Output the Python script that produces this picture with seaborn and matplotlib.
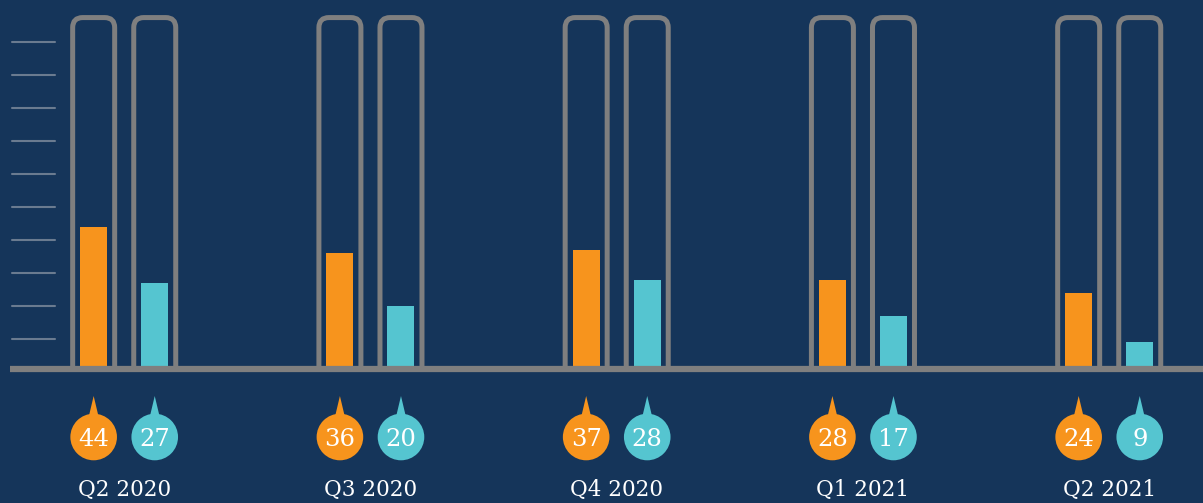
import matplotlib
matplotlib.use("Agg")
import matplotlib.pyplot as plt
import numpy as np
import pandas as pd
import seaborn as sns
from matplotlib.path import Path
from matplotlib.patches import PathPatch, Ellipse, Polygon

QUARTERS = ["Q2 2020", "Q3 2020", "Q4 2020", "Q1 2021", "Q2 2021"]
SERIES = ["Series 1", "Series 2"]
VALUES_1 = [44, 36, 37, 28, 24]
VALUES_2 = [27, 20, 28, 17, 9]
Y_TICKS = [10, 20, 30, 40, 50, 60, 70, 80, 90, 100]
CONTAINER_TOP = 107.4

BG = "#15355a"
COLOURS = ["#f7941d", "#55c5d0"]
GREY = "#7f7f7f"
TICK_GREY = "#6a7b90"

# pixel scale of the reference: 246.25 px per group on x, 3.3 px per unit on y
PX_X = 246.25
PX_Y = 3.3
W, H = 1203, 503
ZERO_PX = 372  # y pixel of value 0
X0_PX = 124.2  # x pixel of first group centre

df = pd.DataFrame({
    "quarter": QUARTERS * 2,
    "series": [SERIES[0]] * 5 + [SERIES[1]] * 5,
    "value": VALUES_1 + VALUES_2,
})

sns.set_style("white")
plt.rcParams["font.family"] = ["DejaVu Serif"]

fig = plt.figure(figsize=(W / 100, H / 100), dpi=100, facecolor=BG)
ax = fig.add_axes([0, 0, 1, 1], facecolor=BG)

sns.barplot(data=df, x="quarter", y="value", hue="series", order=QUARTERS,
            hue_order=SERIES, palette=COLOURS, width=0.496, gap=0.558,
            legend=False, saturation=1, linewidth=0, ax=ax, zorder=2)

ax.set_xlim(-X0_PX / PX_X, (W - X0_PX) / PX_X)
ax.set_ylim(-(H - ZERO_PX) / PX_Y, ZERO_PX / PX_Y)
ax.axis("off")

# decorative scale ticks on the left
for t in Y_TICKS:
    ax.axhline(t, xmin=12 / W, xmax=55 / W, color=TICK_GREY, lw=1.5, zorder=1)

# baseline
ax.axhline(3 / PX_Y, xmin=10 / W, xmax=1, color=GREY, lw=4.5,
           solid_capstyle="butt", zorder=4)

rx, ry = 10 / PX_X, 10 / PX_Y
half = 21 / PX_X
r_x, r_y = 23.3 / PX_X, 23.3 / PX_Y
cy = -(437 - ZERO_PX) / PX_Y
tip_y = -(396 - ZERO_PX) / PX_Y
label_y = -(490 - ZERO_PX) / PX_Y

for colour, cont in zip(COLOURS, ax.containers):
    for bar in cont:
        cx = bar.get_x() + bar.get_width() / 2
        val = bar.get_height()
        # rounded container outline
        x0, x1, top = cx - half, cx + half, CONTAINER_TOP
        verts = [(x0, 0), (x0, top - ry), (x0, top), (x0 + rx, top),
                 (x1 - rx, top), (x1, top), (x1, top - ry), (x1, 0)]
        codes = [Path.MOVETO, Path.LINETO, Path.CURVE3, Path.CURVE3,
                 Path.LINETO, Path.CURVE3, Path.CURVE3, Path.LINETO]
        ax.add_patch(PathPatch(Path(verts, codes), fill=False, edgecolor=GREY,
                               lw=3.6, capstyle="butt", joinstyle="round", zorder=3))
        # value bubble with pointer
        ax.add_patch(Ellipse((cx, cy), 2 * r_x, 2 * r_y, color=colour, lw=0, zorder=5))
        ax.add_patch(Polygon([(cx, tip_y), (cx - 5 / PX_X, cy + r_y - 1),
                              (cx + 5 / PX_X, cy + r_y - 1)],
                             closed=True, color=colour, lw=0, zorder=5))
        ax.text(cx, cy, f"{val:.0f}", color="white", fontsize=17.5,
                ha="center", va="center_baseline", zorder=6)

for i, q in enumerate(QUARTERS):
    ax.text(i, label_y, q, color="white", fontsize=15.5, ha="center", va="center")

fig.savefig("out.png", dpi=100, facecolor=BG)
